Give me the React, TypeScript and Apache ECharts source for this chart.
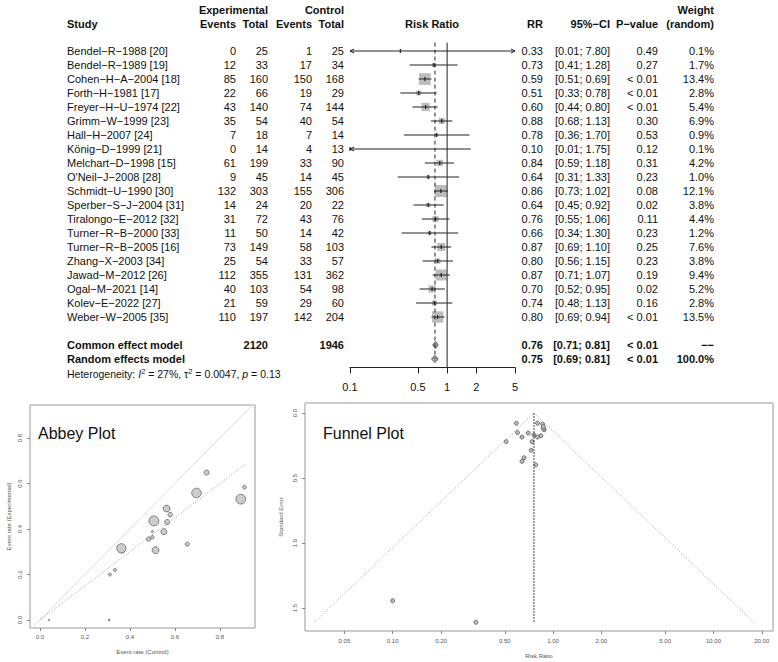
import React, { useEffect, useRef } from "react";
import * as echarts from "echarts";

const studies = [
  "Bendel−R−1988 [20]", "Bendel−R−1989 [19]", "Cohen−H−A−2004 [18]", "Forth−H−1981 [17]",
  "Freyer−H−U−1974 [22]", "Grimm−W−1999 [23]", "Hall−H−2007 [24]", "König−D−1999 [21]",
  "Melchart−D−1998 [15]", "O'Neil−J−2008 [28]", "Schmidt−U−1990 [30]", "Sperber−S−J−2004 [31]",
  "Tiralongo−E−2012 [32]", "Turner−R−B−2000 [33]", "Turner−R−B−2005 [16]", "Zhang−X−2003 [34]",
  "Jawad−M−2012 [26]", "Ogal−M−2021 [14]", "Kolev−E−2022 [27]", "Weber−W−2005 [35]",
];
const expEvents = [0, 12, 85, 22, 43, 35, 7, 0, 61, 9, 132, 14, 31, 11, 73, 25, 112, 40, 21, 110];
const expTotal = [25, 33, 160, 66, 140, 54, 18, 14, 199, 45, 303, 24, 72, 50, 149, 54, 355, 103, 59, 197];
const ctrlEvents = [1, 17, 150, 19, 74, 40, 7, 4, 33, 14, 155, 20, 43, 14, 58, 33, 131, 54, 29, 142];
const ctrlTotal = [25, 34, 168, 29, 144, 54, 14, 13, 90, 45, 306, 22, 76, 42, 103, 57, 362, 98, 60, 204];
const rr = [0.33, 0.73, 0.59, 0.51, 0.6, 0.88, 0.78, 0.1, 0.84, 0.64, 0.86, 0.64, 0.76, 0.66, 0.87, 0.8, 0.87, 0.7, 0.74, 0.8];
const ciLower = [0.01, 0.41, 0.51, 0.33, 0.44, 0.68, 0.36, 0.01, 0.59, 0.31, 0.73, 0.45, 0.55, 0.34, 0.69, 0.56, 0.71, 0.52, 0.48, 0.69];
const ciUpper = [7.8, 1.28, 0.69, 0.78, 0.8, 1.13, 1.7, 1.75, 1.18, 1.33, 1.02, 0.92, 1.06, 1.3, 1.1, 1.15, 1.07, 0.95, 1.13, 0.94];
const pValues = ["0.49", "0.27", "< 0.01", "< 0.01", "< 0.01", "0.30", "0.53", "0.12", "0.31", "0.23", "0.08", "0.02", "0.11", "0.23", "0.25", "0.23", "0.19", "0.02", "0.16", "< 0.01"];
const weightRandom = ["0.1%", "1.7%", "13.4%", "2.8%", "5.4%", "6.9%", "0.9%", "0.1%", "4.2%", "1.0%", "12.1%", "3.8%", "4.4%", "1.2%", "7.6%", "3.8%", "9.4%", "5.2%", "2.8%", "13.5%"];
// common-effect weights (%) used for square / circle sizes
const weightCommon = [0.1, 1.6, 13.8, 2.5, 6.9, 3.8, 0.7, 0.4, 4.3, 1.3, 14.5, 2.0, 3.9, 1.4, 6.5, 3.0, 12.2, 5.2, 2.7, 13.2];
// standard errors of log RR (funnel plot)
const seLogRR = [1.61, 0.287, 0.079, 0.22, 0.151, 0.129, 0.399, 1.444, 0.175, 0.372, 0.086, 0.185, 0.169, 0.344, 0.121, 0.185, 0.105, 0.154, 0.22, 0.078];

const summaryLabels = ["Common effect model", "Random effects model"];
const summaryExpTotal = ["2120", ""];
const summaryCtrlTotal = ["1946", ""];
const summaryRR = [0.76, 0.75];
const summaryLower = [0.71, 0.69];
const summaryUpper = [0.81, 0.81];
const summaryP = ["< 0.01", "< 0.01"];
const summaryWeight = ["−−", "100.0%"];

const forestTicks = [0.1, 0.5, 1, 2, 5];
const funnelTicks = [0.05, 0.1, 0.2, 0.5, 1, 2, 5, 10, 20];
const abbeyTicks = [0, 0.2, 0.4, 0.6, 0.8];
const seTicks = [0, 0.5, 1, 1.5];

const FONT = "Liberation Sans, Arial, Helvetica, sans-serif";

const ROW_MIN = -0.8;
const ROW_MAX = 22.6;
const GRID_TOP = 51 + ROW_MIN * 14;
const GRID_H = (ROW_MAX - ROW_MIN) * 14;

type Cell = { i: number; text: string };

function textSeries(id: string, x: number, cells: Cell[], align: string, bold: boolean) {
  return {
    type: "custom",
    id,
    xAxisIndex: 0,
    yAxisIndex: 0,
    silent: true,
    clip: false,
    data: cells.map((c) => [x, c.i]),
    renderItem: (params: any, api: any) => {
      const p = api.coord([api.value(0), api.value(1)]);
      return {
        type: "text",
        x: p[0],
        y: p[1],
        style: {
          text: cells[params.dataIndex].text,
          align,
          verticalAlign: "middle",
          fontFamily: FONT,
          fontSize: 11,
          fontWeight: bold ? "bold" : "normal",
          fill: "#111",
        },
      };
    },
  };
}

export default function App() {
  const ref = useRef<HTMLDivElement>(null);
  useEffect(() => {
    if (!ref.current) return;
    const chart = echarts.init(ref.current, undefined, { renderer: "svg" });
    const n = studies.length;
    const rowIdx = studies.map((_, k) => k);
    const sumIdx = [n + 1, n + 2];

    const studyCells: Cell[] = studies.map((s, k) => ({ i: k, text: s }));
    const summaryLabelCells: Cell[] = summaryLabels.map((s, k) => ({ i: sumIdx[k], text: s }));
    const fmt2 = (v: number) => v.toFixed(2);

    const series: any[] = [
      textSeries("study", 67, studyCells, "left", false),
      textSeries("sumlab", 67, summaryLabelCells, "left", true),
      textSeries("ee", 236, rowIdx.map((k) => ({ i: k, text: String(expEvents[k]) })), "right", false),
      textSeries("et", 268, rowIdx.map((k) => ({ i: k, text: String(expTotal[k]) })), "right", false),
      textSeries("ce", 312, rowIdx.map((k) => ({ i: k, text: String(ctrlEvents[k]) })), "right", false),
      textSeries("ct", 344, rowIdx.map((k) => ({ i: k, text: String(ctrlTotal[k]) })), "right", false),
      textSeries("set", 268, [0, 1].map((k) => ({ i: sumIdx[k], text: summaryExpTotal[k] })), "right", true),
      textSeries("sct", 344, [0, 1].map((k) => ({ i: sumIdx[k], text: summaryCtrlTotal[k] })), "right", true),
      textSeries("rr", 543, rowIdx.map((k) => ({ i: k, text: fmt2(rr[k]) })), "right", false),
      textSeries("ci", 610, rowIdx.map((k) => ({ i: k, text: `[${fmt2(ciLower[k])}; ${fmt2(ciUpper[k])}]` })), "right", false),
      textSeries("pv", 658, rowIdx.map((k) => ({ i: k, text: pValues[k] })), "right", false),
      textSeries("wt", 714, rowIdx.map((k) => ({ i: k, text: weightRandom[k] })), "right", false),
      textSeries("srr", 543, [0, 1].map((k) => ({ i: sumIdx[k], text: fmt2(summaryRR[k]) })), "right", true),
      textSeries("sci", 610, [0, 1].map((k) => ({ i: sumIdx[k], text: `[${fmt2(summaryLower[k])}; ${fmt2(summaryUpper[k])}]` })), "right", true),
      textSeries("spv", 658, [0, 1].map((k) => ({ i: sumIdx[k], text: summaryP[k] })), "right", true),
      textSeries("swt", 714, [0, 1].map((k) => ({ i: sumIdx[k], text: summaryWeight[k] })), "right", true),
    ];

    // forest reference lines
    series.push({
      type: "line",
      xAxisIndex: 1,
      yAxisIndex: 1,
      silent: true,
      symbol: "none",
      data: [[1, -0.6], [1, ROW_MAX]],
      lineStyle: { color: "#222", width: 1 },
    });
    series.push({
      type: "line",
      xAxisIndex: 1,
      yAxisIndex: 1,
      silent: true,
      symbol: "none",
      data: [[summaryRR[1], -0.6], [summaryRR[1], sumIdx[1]]],
      lineStyle: { color: "#222", width: 1, type: [4, 3] },
    });
    // study CIs and boxes
    const FMIN = 0.1, FMAX = 5;
    series.push({
      type: "custom",
      xAxisIndex: 1,
      yAxisIndex: 1,
      silent: true,
      clip: false,
      data: rowIdx.map((k) => [rr[k], k, ciLower[k], ciUpper[k], weightCommon[k]]),
      renderItem: (params: any, api: any) => {
        const est = api.value(0), y = api.value(1), lo = api.value(2), hi = api.value(3), w = api.value(4);
        const p0 = api.coord([Math.max(lo, FMIN), y]);
        const p1 = api.coord([Math.min(hi, FMAX), y]);
        const pc = api.coord([est, y]);
        const s = Math.max(12 * Math.sqrt(w / 14.5), 0);
        const children: any[] = [];
        if (w >= 0.3) {
          children.push({
            type: "rect",
            shape: { x: pc[0] - s / 2, y: pc[1] - s / 2, width: s, height: s },
            style: { fill: "#bdbdbd" },
          });
        }
        children.push({
          type: "line",
          shape: { x1: p0[0], y1: p0[1], x2: p1[0], y2: p1[1] },
          style: { stroke: "#222", lineWidth: 1 },
        });
        if (lo < FMIN) {
          children.push({
            type: "polyline",
            shape: { points: [[p0[0] + 4, p0[1] - 2], [p0[0], p0[1]], [p0[0] + 4, p0[1] + 2]] },
            style: { stroke: "#222", lineWidth: 1, fill: "none" },
          });
        }
        if (hi > FMAX) {
          children.push({
            type: "polyline",
            shape: { points: [[p1[0] - 4, p1[1] - 2], [p1[0], p1[1]], [p1[0] - 4, p1[1] + 2]] },
            style: { stroke: "#222", lineWidth: 1, fill: "none" },
          });
        }
        children.push({
          type: "line",
          shape: { x1: pc[0], y1: pc[1] - 2, x2: pc[0], y2: pc[1] + 2 },
          style: { stroke: "#222", lineWidth: 1.2 },
        });
        return { type: "group", children };
      },
    });
    // summary diamonds
    series.push({
      type: "custom",
      xAxisIndex: 1,
      yAxisIndex: 1,
      silent: true,
      clip: false,
      data: [0, 1].map((k) => [summaryRR[k], sumIdx[k], summaryLower[k], summaryUpper[k]]),
      renderItem: (params: any, api: any) => {
        const est = api.value(0), y = api.value(1);
        const pl = api.coord([api.value(2), y]);
        const pr = api.coord([api.value(3), y]);
        const pc = api.coord([est, y]);
        const h = 3.5;
        return {
          type: "polygon",
          shape: { points: [[pl[0], pc[1]], [pc[0], pc[1] - h], [pr[0], pc[1]], [pc[0], pc[1] + h]] },
          style: { fill: "#a8a8a8", stroke: "#555", lineWidth: 1 },
        };
      },
    });

    // Abbey plot
    const ctrlRate = rowIdx.map((k) => ctrlEvents[k] / ctrlTotal[k]);
    const expRate = rowIdx.map((k) => expEvents[k] / expTotal[k]);
    const maxCtrl = Math.max(...ctrlRate);
    series.push({
      type: "line",
      xAxisIndex: 2,
      yAxisIndex: 2,
      silent: true,
      symbol: "none",
      data: [[-0.05, -0.05], [1, 1]],
      lineStyle: { color: "#d9d9d9", width: 1 },
    });
    series.push({
      type: "line",
      xAxisIndex: 2,
      yAxisIndex: 2,
      silent: true,
      symbol: "none",
      data: [[0, 0], [maxCtrl, maxCtrl * summaryRR[1]]],
      lineStyle: { color: "#999", width: 1, type: [1, 2] },
    });
    series.push({
      type: "scatter",
      xAxisIndex: 2,
      yAxisIndex: 2,
      silent: true,
      data: rowIdx.map((k) => [ctrlRate[k], expRate[k], weightCommon[k]]),
      symbolSize: (v: number[]) => Math.max(10 * Math.sqrt(v[2] / 14.5), 1.2),
      itemStyle: { color: "#cccccc", borderColor: "#666", borderWidth: 0.8, opacity: 1 },
    });

    // Funnel plot
    const seMax = Math.max(...seLogRR);
    const pooled = summaryRR[0];
    series.push({
      type: "line",
      xAxisIndex: 3,
      yAxisIndex: 3,
      silent: true,
      symbol: "none",
      data: [
        [pooled * Math.exp(-1.96 * seMax), seMax],
        [pooled, 0],
        [pooled * Math.exp(1.96 * seMax), seMax],
      ],
      lineStyle: { color: "#999", width: 1, type: [1, 2] },
    });
    series.push({
      type: "line",
      xAxisIndex: 3,
      yAxisIndex: 3,
      silent: true,
      symbol: "none",
      data: [[pooled, 0], [pooled, seMax]],
      lineStyle: { color: "#444", width: 1, type: [2, 1] },
    });
    series.push({
      type: "scatter",
      xAxisIndex: 3,
      yAxisIndex: 3,
      silent: true,
      data: rowIdx.map((k) => [rr[k], seLogRR[k]]),
      symbolSize: 4,
      itemStyle: { color: "#bbbbbb", borderColor: "#555", borderWidth: 0.8, opacity: 1 },
    });

    const smallLabel = { fontFamily: FONT, fontSize: 6, color: "#555" };
    const hdr = (text: string, x: number, y: number, align: string, bold = true) => ({
      type: "text",
      x,
      y,
      silent: true,
      style: {
        text,
        align,
        verticalAlign: "middle",
        fontFamily: FONT,
        fontSize: 11,
        fontWeight: bold ? "bold" : "normal",
        fill: "#111",
      },
    });

    chart.setOption({
      animation: false,
      backgroundColor: "#ffffff",
      grid: [
        { left: 0, top: GRID_TOP, width: 778, height: GRID_H },
        { left: 350, top: GRID_TOP, width: 165, height: GRID_H },
        { left: 30, top: 405, width: 225, height: 223, show: true, borderColor: "#9a9a9a", borderWidth: 1 },
        { left: 305, top: 403, width: 468, height: 228, show: true, borderColor: "#9a9a9a", borderWidth: 1 },
      ],
      xAxis: [
        { type: "value", gridIndex: 0, min: 0, max: 778, show: false },
        {
          type: "log",
          gridIndex: 1,
          min: FMIN,
          max: FMAX,
          position: "bottom",
          axisLine: { show: true, onZero: false, lineStyle: { color: "#222", width: 1 } },
          axisTick: { show: true, length: 6, customValues: forestTicks, lineStyle: { color: "#222" } },
          axisLabel: {
            customValues: forestTicks,
            margin: 14,
            fontFamily: FONT,
            fontSize: 11,
            color: "#111",
            formatter: (v: number) => String(v),
          },
          splitLine: { show: false },
          minorTick: { show: false },
        },
        {
          type: "value",
          gridIndex: 2,
          min: -0.044,
          max: 0.956,
          position: "bottom",
          axisLine: { show: false, onZero: false },
          axisTick: { show: true, length: 3, customValues: abbeyTicks, lineStyle: { color: "#888" } },
          axisLabel: { ...smallLabel, customValues: abbeyTicks, margin: 6, formatter: (v: number) => v.toFixed(1) },
          splitLine: { show: false },
          name: "Event rate (Control)",
          nameLocation: "middle",
          nameGap: 21,
          nameTextStyle: { ...smallLabel },
        },
        {
          type: "log",
          gridIndex: 3,
          min: 0.0284,
          max: 23.5,
          position: "bottom",
          axisLine: { show: false, onZero: false },
          axisTick: { show: true, length: 3, customValues: funnelTicks, lineStyle: { color: "#888" } },
          axisLabel: { ...smallLabel, customValues: funnelTicks, margin: 7, formatter: (v: number) => v.toFixed(2) },
          splitLine: { show: false },
          minorTick: { show: false },
          name: "Risk Ratio",
          nameLocation: "middle",
          nameGap: 22,
          nameTextStyle: { ...smallLabel },
        },
      ],
      yAxis: [
        { type: "value", gridIndex: 0, min: ROW_MIN, max: ROW_MAX, inverse: true, show: false },
        { type: "value", gridIndex: 1, min: ROW_MIN, max: ROW_MAX, inverse: true, show: false },
        {
          type: "value",
          gridIndex: 2,
          min: -0.035,
          max: 0.945,
          position: "left",
          axisLine: { show: false, onZero: false },
          axisTick: { show: true, length: 3, customValues: abbeyTicks, lineStyle: { color: "#888" } },
          axisLabel: { ...smallLabel, customValues: abbeyTicks, rotate: 90, margin: 7, formatter: (v: number) => v.toFixed(1) },
          splitLine: { show: false },
          name: "Event rate (Experimental)",
          nameLocation: "middle",
          nameGap: 18,
          nameRotate: 90,
          nameTextStyle: { ...smallLabel },
        },
        {
          type: "value",
          gridIndex: 3,
          min: -0.077,
          max: 1.677,
          inverse: true,
          position: "left",
          axisLine: { show: false, onZero: false },
          axisTick: { show: true, length: 3, customValues: seTicks, lineStyle: { color: "#888" } },
          axisLabel: { ...smallLabel, customValues: seTicks, rotate: 90, margin: 7, formatter: (v: number) => v.toFixed(1) },
          splitLine: { show: false },
          name: "Standard Error",
          nameLocation: "middle",
          nameGap: 18,
          nameRotate: 90,
          nameTextStyle: { ...smallLabel },
        },
      ],
      graphic: [
        hdr("Study", 67, 24, "left"),
        hdr("Experimental", 268, 10, "right"),
        hdr("Events", 236, 24, "right"),
        hdr("Total", 268, 24, "right"),
        hdr("Control", 344, 10, "right"),
        hdr("Events", 312, 24, "right"),
        hdr("Total", 344, 24, "right"),
        hdr("Risk Ratio", 432, 24, "center"),
        hdr("RR", 543, 24, "right"),
        hdr("95%−CI", 610, 24, "right"),
        hdr("P−value", 658, 24, "right"),
        hdr("Weight", 714, 10, "right"),
        hdr("(random)", 714, 24, "right"),
        {
          type: "text",
          x: 67,
          y: 374,
          silent: true,
          style: {
            text: "Heterogeneity: {it|I}{sup|2} = 27%, τ{sup|2} = 0.0047, {it|p} = 0.13",
            verticalAlign: "middle",
            fontFamily: FONT,
            fontSize: 10.5,
            fill: "#111",
            rich: {
              it: { fontStyle: "italic", fontFamily: FONT, fontSize: 10.5, fill: "#111" },
              sup: { fontFamily: FONT, fontSize: 7.5, fill: "#111", verticalAlign: "top", padding: [0, 0, 5, 0] },
            },
          },
        },
        {
          type: "text",
          x: 38,
          y: 433,
          silent: true,
          style: { text: "Abbey Plot", verticalAlign: "middle", fontFamily: FONT, fontSize: 16, fill: "#111" },
        },
        {
          type: "text",
          x: 323,
          y: 433,
          silent: true,
          style: { text: "Funnel Plot", verticalAlign: "middle", fontFamily: FONT, fontSize: 16, fill: "#111" },
        },
      ],
      series,
    });
    return () => chart.dispose();
  }, []);
  return <div ref={ref} style={{ position: "fixed", left: 0, top: 0, width: 778, height: 662 }} />;
}
